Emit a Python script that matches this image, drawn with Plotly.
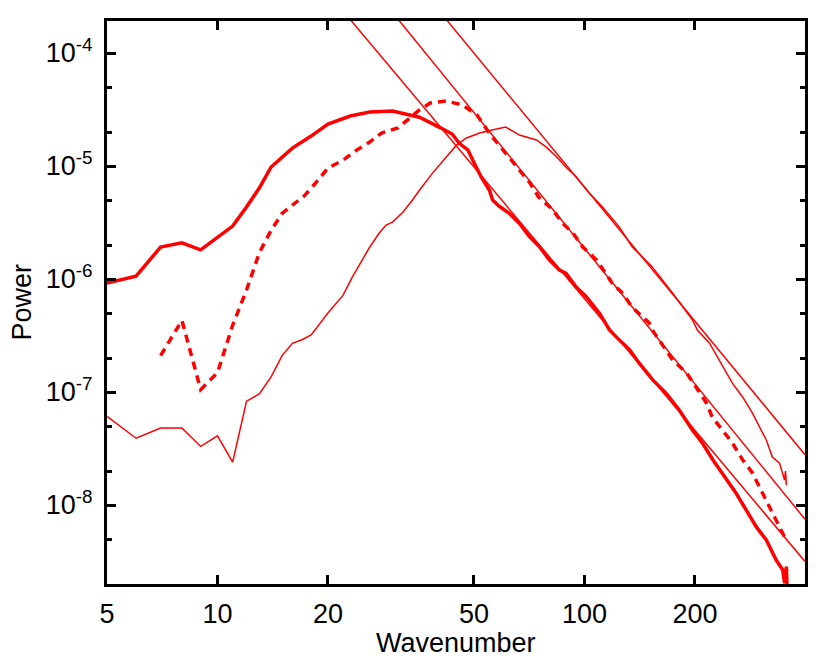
import numpy as np
import plotly.graph_objects as go

# ---- data ----
k_thick = [5, 6, 7, 8, 9, 10, 11, 12, 13, 14, 16, 18, 20, 23, 26, 30, 34, 35.5, 40.3, 43.6,
           45.6, 48.1, 50.1, 52.3, 55.1, 56.2, 58.6, 62.5, 66.5, 70.8, 75.4, 80.3, 85.5, 89.1,
           94.9, 101, 110, 117, 124.5, 133, 141, 153.5, 167, 181.5, 197, 210, 224, 238, 259,
           276, 294, 313, 333, 347, 351, 355, 357]
p_thick = [9.2e-7, 1.06e-6, 1.92e-6, 2.09e-6, 1.81e-6, 2.36e-6, 2.94e-6, 4.33e-6, 6.38e-6, 9.8e-6,
           1.44e-5, 1.84e-5, 2.35e-5, 2.77e-5, 3.0e-5, 3.07e-5, 2.77e-5, 2.7e-5, 2.2e-5, 1.92e-5,
           1.59e-5, 1.39e-5, 1.06e-5, 8.0e-6, 6.1e-6, 5.0e-6, 4.4e-6, 3.8e-6, 3.1e-6, 2.37e-6,
           1.93e-6, 1.47e-6, 1.2e-6, 1.12e-6, 8.5e-7, 7.0e-7, 4.96e-7, 3.54e-7, 2.88e-7, 2.35e-7,
           1.8e-7, 1.28e-7, 9.7e-8, 6.9e-8, 4.6e-8, 3.5e-8, 2.5e-8, 1.9e-8, 1.27e-8,
           9.0e-9, 6.4e-9, 4.9e-9, 3.26e-9, 2.66e-9, 2.03e-9, 2.85e-9, 1.6e-9]

k_dash = [7, 8, 9, 10, 11, 12, 13, 14, 15, 16, 17.3, 18.6, 20, 22, 24, 26, 28, 31, 33, 35.5,
          38, 42, 46.5, 51, 55, 58.6, 62.5, 66.5, 71, 75, 82, 87, 93, 99, 108, 119, 127, 135,
          150, 153, 174, 190, 202, 215, 223, 238, 253, 270, 287, 300, 313, 325, 340, 351]
p_dash = [2.1e-7, 4.3e-7, 1.05e-7, 1.48e-7, 3.9e-7, 8.0e-7, 1.7e-6, 2.7e-6, 3.8e-6, 4.5e-6,
          5.5e-6, 7.2e-6, 9.6e-6, 1.13e-5, 1.39e-5, 1.63e-5, 1.96e-5, 2.17e-5, 2.55e-5, 3.13e-5,
          3.61e-5, 3.76e-5, 3.47e-5, 2.82e-5, 1.96e-5, 1.53e-5, 1.2e-5, 9.2e-6, 7.1e-6, 5.3e-6,
          4.1e-6, 3.13e-6, 2.55e-6, 1.92e-6, 1.47e-6, 9.2e-7, 7.5e-7, 5.6e-7, 4.1e-7, 3.54e-7,
          1.92e-7, 1.47e-7, 1.1e-7, 8.0e-8, 6.0e-8, 4.6e-8, 3.54e-8, 2.5e-8, 1.92e-8, 1.44e-8,
          1.1e-8, 8.5e-9, 6.4e-9, 5.2e-9]

k_thin = [5, 6, 7, 8, 9, 10, 11, 12, 13, 14, 15, 16, 17, 18, 20, 22, 23.3, 24.8, 26, 27.6,
          28.8, 30, 32, 34, 35.5, 38.6, 42, 44.8, 47.7, 51.8, 56, 61, 66.5, 74, 78.7, 84, 89,
          95, 103, 112, 124.5, 135, 153, 174, 197, 203, 219, 233, 253, 270, 287, 313, 325,
          340, 351, 353, 355]
p_thin = [6.1e-8, 3.9e-8, 4.8e-8, 4.8e-8, 3.3e-8, 4.1e-8, 2.4e-8, 8.3e-8, 9.6e-8, 1.36e-7,
          2.1e-7, 2.7e-7, 2.9e-7, 3.2e-7, 5.0e-7, 7.2e-7, 1.04e-6, 1.47e-6, 1.92e-6, 2.55e-6,
          3.0e-6, 3.19e-6, 3.9e-6, 5.0e-6, 6.1e-6, 8.7e-6, 1.2e-5, 1.53e-5, 1.77e-5, 1.96e-5,
          2.08e-5, 2.21e-5, 1.88e-5, 1.7e-5, 1.47e-5, 1.2e-5, 9.8e-6, 8.0e-6, 5.77e-6, 4.34e-6,
          2.88e-6, 1.92e-6, 1.28e-6, 7.5e-7, 4.34e-7, 3.54e-7, 2.72e-7, 1.92e-7, 1.2e-7, 9.0e-8,
          6.5e-8, 3.76e-8, 2.66e-8, 2.35e-8, 1.66e-8, 2.0e-8, 1.5e-8]

# power-law reference lines: value at k=100 and slope
fit_amp100 = [6.7e-7, 1.87e-6, 6.5e-6]
fit_slope = [-3.87, -3.99, -3.94]

x_ticks = [5, 10, 20, 50, 100, 200]
y_ticks = [1e-8, 1e-7, 1e-6, 1e-5, 1e-4]
y_ticktext = ["10<sup>-8</sup>", "10<sup>-7</sup>", "10<sup>-6</sup>", "10<sup>-5</sup>", "10<sup>-4</sup>"]
y_minor = [m * 10.0 ** e for e in range(-9, -3) for m in (2, 5)]

x_range = [5, 399]
y_range = [2.0e-9, 1.92e-4]

RED = "#ff0000"
fig = go.Figure()

kk = np.array(x_range, dtype=float)
for a, s in zip(fit_amp100, fit_slope):
    fig.add_trace(go.Scatter(x=kk, y=a * (kk / 100.0) ** s, mode="lines",
                             line=dict(color=RED, width=1.5), showlegend=False))

fig.add_trace(go.Scatter(x=k_thin, y=p_thin, mode="lines",
                         line=dict(color=RED, width=1.5), showlegend=False))
fig.add_trace(go.Scatter(x=k_dash, y=p_dash, mode="lines",
                         line=dict(color=RED, width=3.5, dash="8px,6px"), showlegend=False))
fig.add_trace(go.Scatter(x=k_thick, y=p_thick, mode="lines",
                         line=dict(color=RED, width=3.5), showlegend=False))

font = dict(family="Liberation Sans, Arial, sans-serif", size=27, color="black")

fig.update_layout(
    width=830, height=664,
    margin=dict(l=107, r=25, t=21, b=80),
    paper_bgcolor="white", plot_bgcolor="white",
    font=font,
    xaxis=dict(
        type="log", range=[np.log10(x_range[0]), np.log10(x_range[1])],
        tickmode="array", tickvals=x_ticks, ticktext=[str(v) for v in x_ticks],
        ticks="inside", ticklen=9, tickwidth=3, tickcolor="black",
        showline=True, linewidth=3, linecolor="black", mirror="allticks",
        showgrid=False, zeroline=False, automargin=False,
        tickfont=font, ticklabelstandoff=4,
    ),
    yaxis=dict(
        type="log", range=[np.log10(y_range[0]), np.log10(y_range[1])],
        tickmode="array", tickvals=y_ticks, ticktext=y_ticktext,
        ticks="inside", ticklen=9, tickwidth=3, tickcolor="black",
        minor=dict(tickmode="array", tickvals=y_minor, ticks="inside", ticklen=5,
                   tickwidth=3, tickcolor="black", showgrid=False),
        showline=True, linewidth=3, linecolor="black", mirror="allticks",
        showgrid=False, zeroline=False, automargin=False,
        tickfont=font, ticklabelstandoff=6,
    ),
    annotations=[
        dict(text="Wavenumber", xref="paper", yref="paper", x=0.5, y=0,
             xanchor="center", yanchor="middle", yshift=-59, showarrow=False, font=font),
        dict(text="Power", xref="paper", yref="paper", x=0, y=0.5, textangle=-90,
             xanchor="center", yanchor="middle", xshift=-86, showarrow=False, font=font),
    ],
)

fig.write_html("out.html", config={"displayModeBar": False},
               post_script="document.body.style.margin='0px';document.body.style.overflow='hidden';")
